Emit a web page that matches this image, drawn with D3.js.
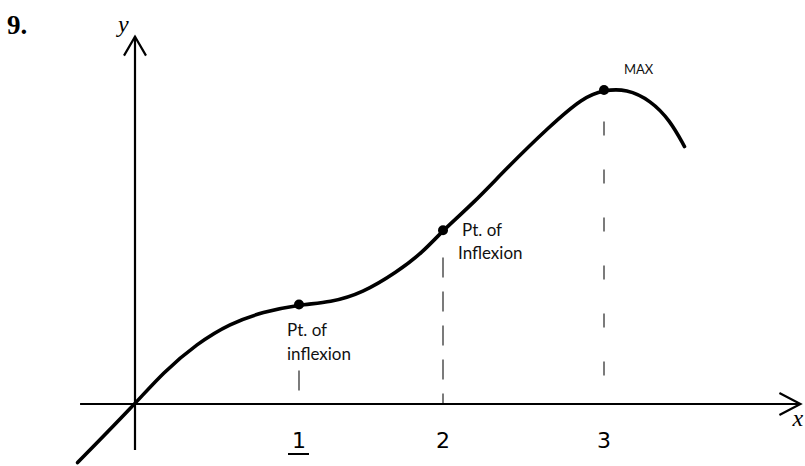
<!DOCTYPE html>
<html>
<head>
<meta charset="utf-8">
<script src="https://cdn.jsdelivr.net/npm/d3@7"></script>
<style>
  html, body { margin: 0; padding: 0; background: #fff; }
  svg { display: block; }
</style>
</head>
<body>
<svg id="chart" width="805" height="466"></svg>
<script>
// ---- data (x in graph units, y in graph units; y=3 at the maximum) ----
const curveX = [-0.35, 0, 0.17, 0.38, 0.58, 0.78, 1.0, 1.22, 1.44, 1.68, 1.86, 2.0, 2.19, 2.40, 2.66, 2.87, 3.0, 3.14, 3.29, 3.41, 3.50];
const curveY = [-0.56, 0, 0.30, 0.58, 0.77, 0.88, 0.95, 0.97, 1.06, 1.26, 1.45, 1.66, 1.92, 2.26, 2.65, 2.93, 3.0, 3.01, 2.90, 2.71, 2.46];
const pointX = [1, 2, 3];
const pointY = [0.95, 1.66, 3.0];
const pointLabels = [["Pt. of", "inflexion"], ["Pt. of", "Inflexion"], ["MAX"]];
const tickValues = [1, 2, 3];
const tickLabels = ["1", "2", "3"];
const axisXRange = [-0.335, 4.22];
const axisYRange = [-0.44, 3.51];

const svg = d3.select("#chart");
// hand-drawn tick spacing is uneven, so the x scale is polylinear
const x = d3.scaleLinear().domain([0, 1, 2, 3]).range([135, 299, 443, 604]);
const y = d3.scaleLinear().domain([0, 3]).range([404, 90]);

// question number
svg.append("text").attr("x", 7).attr("y", 34)
  .attr("font-family", "Liberation Serif").attr("font-weight", "bold")
  .attr("font-size", 27).text("9.");

// dashed verticals
pointX.forEach((px, i) => {
  const top = i === 0 ? y(0.32) : (i === 1 ? y(1.4) : y(2.7));
  svg.append("line")
    .attr("x1", x(px)).attr("x2", x(px))
    .attr("y1", top).attr("y2", y(0))
    .attr("stroke", "#444").attr("stroke-width", 1.4)
    .attr("stroke-dasharray", i === 0 ? "20 40" : (i === 1 ? "20 14" : "14 34"));
});

// axes
svg.append("line").attr("x1", x(axisXRange[0])).attr("x2", x(axisXRange[1]))
  .attr("y1", y(0)).attr("y2", y(0)).attr("stroke", "#000").attr("stroke-width", 2.2);
svg.append("line").attr("x1", x(0)).attr("x2", x(0))
  .attr("y1", y(axisYRange[0])).attr("y2", y(axisYRange[1])).attr("stroke", "#000").attr("stroke-width", 2.2);
// arrowheads
const xe = x(axisXRange[1]), ye = y(axisYRange[1]);
svg.append("path").attr("d", `M${xe - 21},${y(0) - 11} L${xe},${y(0)} L${xe - 21},${y(0) + 11}`)
  .attr("fill", "none").attr("stroke", "#000").attr("stroke-width", 2.2);
svg.append("path").attr("d", `M${x(0) - 11},${ye + 19} L${x(0)},${ye} L${x(0) + 11},${ye + 19}`)
  .attr("fill", "none").attr("stroke", "#000").attr("stroke-width", 2.2);
// axis letters
svg.append("text").attr("x", x(0) - 17).attr("y", 32)
  .attr("font-family", "Liberation Serif").attr("font-style", "italic")
  .attr("font-size", 24).text("y");
svg.append("text").attr("x", xe - 8).attr("y", 426)
  .attr("font-family", "Liberation Serif").attr("font-style", "italic")
  .attr("font-size", 24).text("x");

// tick labels
tickValues.forEach((t, i) => {
  svg.append("text").attr("x", x(t)).attr("y", 448)
    .attr("text-anchor", "middle").attr("font-family", "DejaVu Sans")
    .attr("font-size", 22).text(tickLabels[i]);
});
svg.append("line").attr("x1", x(1) - 11).attr("x2", x(1) + 10)
  .attr("y1", 454).attr("y2", 454).attr("stroke", "#000").attr("stroke-width", 2);

// curve
const pts = curveX.map((d, i) => [d, curveY[i]]);
svg.append("path").datum(pts)
  .attr("d", d3.line().x(d => x(d[0])).y(d => y(d[1])).curve(d3.curveBasis))
  .attr("fill", "none").attr("stroke", "#000").attr("stroke-width", 3.6)
  .attr("stroke-linecap", "round");

// points
svg.selectAll("circle.pt").data(pointX).enter().append("circle")
  .attr("cx", d => x(d)).attr("cy", (d, i) => y(pointY[i])).attr("r", 5).attr("fill", "#000");

// annotations
const labelPos = [[-12, 31, 24], [19, 6, 23], [20, -16, 0]];
pointLabels.forEach((lines, i) => {
  const t = svg.append("text")
    .attr("font-family", "Lato").attr("font-size", i === 2 ? 13 : 17).attr("fill", "#111");
  lines.forEach((ln, j) => {
    t.append("tspan").attr("x", x(pointX[i]) + labelPos[i][0] + (i === 1 && j === 1 ? -4 : 0))
      .attr("y", y(pointY[i]) + labelPos[i][1] + j * labelPos[i][2]).text(ln);
  });
});
</script>
</body>
</html>
